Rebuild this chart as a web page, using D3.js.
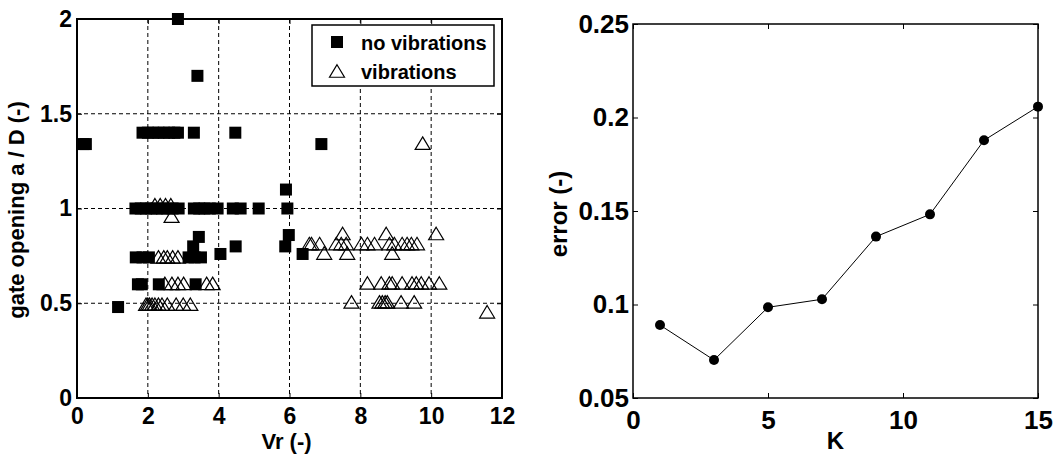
<!DOCTYPE html>
<html><head><meta charset="utf-8">
<script src="https://cdn.jsdelivr.net/npm/d3@7"></script>
<style>
body{margin:0;background:#fff}
svg{display:block}
text{font-family:"Liberation Sans",Arial,Helvetica,sans-serif;font-weight:bold;fill:#000}
</style>
</head><body>
<svg id="c" width="1057" height="455"></svg>
<script>
// ---- data: left panel (gate opening vs Vr) ----
const noVibVr = [0.18,0.25, 2.85, 3.4,
  1.85,2.0,2.15,2.3,2.45,2.6,2.75,2.85,3.3,4.47,
  6.9, 5.9,
  1.65,1.8,1.95,2.1,2.25,2.4,2.55,2.7,2.87,3.3,3.45,3.6,3.75,3.97,4.4,4.62,5.13,5.94,
  5.98,5.88,3.44,3.28,4.05,4.48,6.37,
  1.66,1.85,2.03,3.15,3.32,3.5,
  1.72,1.83,2.31,3.35,
  1.16];
const noVibGate = [1.34,1.34, 2.0, 1.70,
  1.4,1.4,1.4,1.4,1.4,1.4,1.4,1.4,1.4,1.4,
  1.34, 1.10,
  1,1,1,1,1,1,1,1,1,1,1,1,1,1,1,1,1,1,
  0.86,0.80,0.85,0.80,0.76,0.80,0.76,
  0.742,0.742,0.742,0.742,0.742,0.742,
  0.60,0.60,0.60,0.60,
  0.48];
const vibVr = [9.76,
  2.2,2.35,2.5,2.65,2.67,
  2.3,2.45,2.55,2.7,2.85,
  2.48,2.68,2.85,3.01,3.66,3.83,
  1.95,2.0,2.05,2.12,2.2,2.3,2.4,2.55,2.8,3.0,3.2,
  6.56,6.62,6.85,7.32,7.46,7.6,8.03,8.2,8.4,8.82,8.96,9.18,9.32,9.44,9.6,
  7.5,8.73,10.14,
  6.98,7.63,8.9,
  8.2,8.59,8.82,8.9,9.18,9.46,9.58,9.72,9.94,10.23,
  7.75,8.54,8.62,8.7,8.76,9.15,9.52,
  11.58];
const vibGate = [1.345,
  1.02,1.02,1.02,1.02,0.96,
  0.745,0.745,0.745,0.745,0.745,
  0.605,0.605,0.605,0.605,0.605,0.605,
  0.495,0.495,0.495,0.495,0.495,0.495,0.495,0.495,0.495,0.495,0.495,
  0.815,0.815,0.815,0.815,0.815,0.815,0.815,0.815,0.815,0.815,0.815,0.815,0.815,0.815,0.815,
  0.868,0.868,0.868,
  0.765,0.765,0.765,
  0.607,0.607,0.607,0.607,0.607,0.607,0.607,0.607,0.607,0.607,
  0.507,0.507,0.507,0.507,0.507,0.507,0.507,
  0.455];
const leftXTicks = [0,2,4,6,8,10,12];
const leftYTicks = [0,0.5,1,1.5,2];
const leftXGrid = [2,4,6,8,10];
const leftYGrid = [0.5,1,1.5];
const legendLabels = ["no vibrations","vibrations"];
const leftXLabel = "Vr (-)";
const leftYLabel = "gate opening a / D (-)";

// ---- data: right panel (error vs K) ----
const kValues = [1,3,5,7,9,11,13,15];
const errorValues = [0.089,0.0703,0.0985,0.1028,0.1363,0.1482,0.1878,0.2058];
const rightXTicks = [0,5,10,15];
const rightYTicks = [0.05,0.1,0.15,0.2,0.25];
const rightXLabel = "K";
const rightYLabel = "error (-)";

const svg = d3.select("#c");
const plain = d => String(+(+d).toFixed(2));

// ================= LEFT PANEL =================
const L = {x0:77, x1:502, y0:19, y1:398};
const xL = d3.scaleLinear().domain([0,12]).range([L.x0,L.x1]);
const yL = d3.scaleLinear().domain([0,2]).range([L.y1,L.y0]);
const gL = svg.append("g");

// grid
gL.selectAll(".vg").data(leftXGrid).join("line")
  .attr("x1",d=>xL(d)).attr("x2",d=>xL(d)).attr("y1",L.y0).attr("y2",L.y1)
  .attr("stroke","#000").attr("stroke-width",1).attr("stroke-dasharray","4,3");
gL.selectAll(".hg").data(leftYGrid).join("line")
  .attr("y1",d=>yL(d)).attr("y2",d=>yL(d)).attr("x1",L.x0).attr("x2",L.x1)
  .attr("stroke","#000").attr("stroke-width",1).attr("stroke-dasharray","4,3");

// axes
const axLB = gL.append("g").attr("transform",`translate(0,${L.y1})`)
  .call(d3.axisBottom(xL).tickValues(leftXTicks).tickFormat(plain).tickSize(-5).tickPadding(10));
const axLL = gL.append("g").attr("transform",`translate(${L.x0},0)`)
  .call(d3.axisLeft(yL).tickValues(leftYTicks).tickFormat(plain).tickSize(-5).tickPadding(5));
const axLT = gL.append("g").attr("transform",`translate(0,${L.y0})`)
  .call(d3.axisTop(xL).tickValues(leftXTicks).tickSize(-5).tickFormat(""));
const axLR = gL.append("g").attr("transform",`translate(${L.x1},0)`)
  .call(d3.axisRight(yL).tickValues(leftYTicks).tickSize(-5).tickFormat(""));
[axLB,axLL,axLT,axLR].forEach(a=>{
  a.select(".domain").remove();
  a.selectAll("line").attr("stroke","#000").attr("stroke-width",1);
  a.selectAll("text").style("font-size","23px").style("font-family",'"Liberation Sans",Arial,sans-serif').style("font-weight","bold").attr("fill","#000");
});

// triangles (vibrations), drawn first
const triPath = "M0,-6.25L7.5,6.25L-7.5,6.25Z";
gL.selectAll(".tri").data(vibVr.map((v,i)=>[v,vibGate[i]])).join("path")
  .attr("d",triPath).attr("transform",d=>`translate(${xL(d[0])},${yL(d[1])})`)
  .attr("fill","none").attr("stroke","#000").attr("stroke-width",1.2);
// squares (no vibrations)
const sq = 12;
gL.selectAll(".sq").data(noVibVr.map((v,i)=>[v,noVibGate[i]])).join("rect")
  .attr("x",d=>xL(d[0])-sq/2).attr("y",d=>yL(d[1])-sq/2)
  .attr("width",sq).attr("height",sq).attr("fill","#000");

// frame
gL.append("rect").attr("x",L.x0).attr("y",L.y0).attr("width",L.x1-L.x0).attr("height",L.y1-L.y0)
  .attr("fill","none").attr("stroke","#000").attr("stroke-width",2);

// legend
const lg = gL.append("g");
lg.append("rect").attr("x",312).attr("y",25).attr("width",182).attr("height",61)
  .attr("fill","#fff").attr("stroke","#000").attr("stroke-width",1.5);
lg.append("rect").attr("x",337-sq/2).attr("y",42-sq/2).attr("width",sq).attr("height",sq).attr("fill","#000");
lg.append("path").attr("d",triPath).attr("transform","translate(337,71)")
  .attr("fill","none").attr("stroke","#000").attr("stroke-width",1.2);
lg.selectAll("text.leg").data(legendLabels).join("text")
  .attr("x",361).attr("y",(d,i)=>i===0?50:79).style("font-size","20px").text(d=>d);

// axis labels
gL.append("text").attr("x",(L.x0+L.x1)/2-3).attr("y",449).attr("text-anchor","middle")
  .style("font-size","22px").text(leftXLabel);
gL.append("text").attr("transform","translate(24,210) rotate(-90)").attr("text-anchor","middle")
  .style("font-size","22px").text(leftYLabel);

// ================= RIGHT PANEL =================
const R = {x0:633, x1:1038, y0:24, y1:398};
const xR = d3.scaleLinear().domain([0,15]).range([R.x0,R.x1]);
const yR = d3.scaleLinear().domain([0.05,0.25]).range([R.y1,R.y0]);
const gR = svg.append("g");

const axRB = gR.append("g").attr("transform",`translate(0,${R.y1})`)
  .call(d3.axisBottom(xR).tickValues(rightXTicks).tickFormat(plain).tickSize(-5).tickPadding(13));
const axRL = gR.append("g").attr("transform",`translate(${R.x0},0)`)
  .call(d3.axisLeft(yR).tickValues(rightYTicks).tickFormat(plain).tickSize(-5).tickPadding(4));
const axRT = gR.append("g").attr("transform",`translate(0,${R.y0})`)
  .call(d3.axisTop(xR).tickValues(rightXTicks).tickSize(-5).tickFormat(""));
const axRR = gR.append("g").attr("transform",`translate(${R.x1},0)`)
  .call(d3.axisRight(yR).tickValues(rightYTicks).tickSize(-5).tickFormat(""));
[axRB,axRL,axRT,axRR].forEach(a=>{
  a.select(".domain").remove();
  a.selectAll("line").attr("stroke","#000").attr("stroke-width",1);
  a.selectAll("text").style("font-size","26px").style("font-family",'"Liberation Sans",Arial,sans-serif').style("font-weight","bold").attr("fill","#000");
});

gR.append("rect").attr("x",R.x0).attr("y",R.y0).attr("width",R.x1-R.x0).attr("height",R.y1-R.y0)
  .attr("fill","none").attr("stroke","#000").attr("stroke-width",1.5);

const line = d3.line().x((d,i)=>xR(kValues[i])).y(d=>yR(d));
gR.append("path").datum(errorValues).attr("d",line)
  .attr("fill","none").attr("stroke","#000").attr("stroke-width",1);
gR.selectAll(".pt").data(errorValues).join("circle")
  .attr("cx",(d,i)=>xR(kValues[i])).attr("cy",d=>yR(d)).attr("r",5).attr("fill","#000");

gR.append("text").attr("x",(R.x0+R.x1)/2).attr("y",449).attr("text-anchor","middle")
  .style("font-size","24px").text(rightXLabel);
gR.append("text").attr("transform","translate(567,214) rotate(-90)").attr("text-anchor","middle")
  .style("font-size","24px").text(rightYLabel);
</script>
</body></html>
